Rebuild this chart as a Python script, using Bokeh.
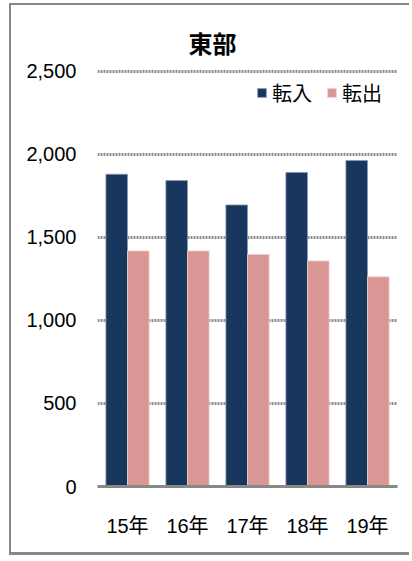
from bokeh.plotting import figure
from bokeh.models import ColumnDataSource, FactorRange, Range1d, Legend, LegendItem, NumeralTickFormatter, FixedTicker
from bokeh.transform import dodge
from bokeh.embed import file_html
from bokeh.resources import INLINE

years = ["15年", "16年", "17年", "18年", "19年"]
tennyu = [1881, 1843, 1696, 1892, 1964]   # 転入
tenshutsu = [1419, 1419, 1398, 1359, 1263]  # 転出
y_ticks = [0, 500, 1000, 1500, 2000, 2500]
title_text = "東部"
series_names = ["転入", "転出"]

src = ColumnDataSource(dict(year=years, tennyu=tennyu, tenshutsu=tenshutsu))

FONT = "'Liberation Sans', 'Noto Sans CJK JP', sans-serif"

p = figure(
    x_range=FactorRange(*years, range_padding=0),
    y_range=Range1d(0, 2512),
    width=400, height=552,
    output_backend="svg", toolbar_location=None,
    min_border_left=86, min_border_right=14, min_border_top=64, min_border_bottom=71,
    title=title_text,
)
p.styles = {
    "margin-top": "3px", "margin-left": "9px",
    "border-left": "2px solid #888888", "border-top": "2px solid #888888",
    "border-bottom": "3px solid #888888",
}
p.outline_line_color = None
p.background_fill_color = "white"
p.border_fill_color = "white"

p.title.text_font = "'Noto Sans CJK JP', sans-serif"
p.title.text_font_size = "24px"
p.title.text_font_style = "bold"
p.title.text_color = "#000000"
p.title.align = "left"
p.title.offset = 91
p.title.standoff = 18
p.title.vertical_align = "middle"

r1 = p.vbar(x=dodge("year", -0.18, range=p.x_range), top="tennyu", width=0.36, source=src,
            fill_color="#17375E", line_color="#8a9bb3", line_width=0.8)
r2 = p.vbar(x=dodge("year", 0.18, range=p.x_range), top="tenshutsu", width=0.36, source=src,
            fill_color="#D99694", line_color="#f0d0cf", line_width=0.8)

legend = Legend(items=[LegendItem(label=series_names[0], renderers=[r1]),
                       LegendItem(label=series_names[1], renderers=[r2])],
                location=(159, 379), orientation="horizontal")
legend.padding = 0
legend.margin = 0
legend.spacing = 14
legend.label_standoff = 5
legend.glyph_width = 11
legend.glyph_height = 11
legend.label_text_font = "'Noto Sans CJK JP', sans-serif"
legend.label_text_font_size = "20px"
legend.label_text_color = "#000000"
legend.border_line_color = None
legend.background_fill_alpha = 0
p.add_layout(legend)

p.yaxis.ticker = FixedTicker(ticks=y_ticks)
p.yaxis.formatter = NumeralTickFormatter(format="0,0")
p.yaxis.axis_line_color = None
p.yaxis.major_tick_line_color = None
p.yaxis.minor_tick_line_color = None
p.yaxis.major_label_standoff = 15
p.yaxis.major_label_text_font = FONT
p.yaxis.major_label_text_font_size = "20px"
p.yaxis.major_label_text_color = "#000000"

p.xaxis.axis_line_color = "#888888"
p.xaxis.axis_line_width = 3
p.xaxis.major_tick_line_color = None
p.xaxis.minor_tick_line_color = None
p.xaxis.major_label_standoff = 22
p.xaxis.major_label_text_font = FONT
p.xaxis.major_label_text_font_size = "20px"
p.xaxis.major_label_text_color = "#000000"

p.xgrid.grid_line_color = None
p.ygrid.grid_line_color = "#909090"
p.ygrid.grid_line_width = 3
p.ygrid.grid_line_dash = "2 1"

open("out.html", "w").write(file_html(p, INLINE))
